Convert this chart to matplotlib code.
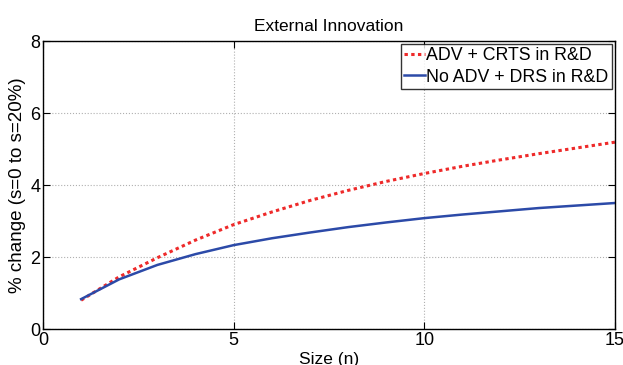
import numpy as np
import matplotlib.pyplot as plt

plt.rcParams['font.family'] = ['Liberation Sans', 'DejaVu Sans']

size_n = [1, 2, 3, 4, 5, 6, 7, 8, 9, 10, 11, 12, 13, 14, 15]
adv_crts = [0.80, 1.45, 1.98, 2.47, 2.90, 3.25, 3.57, 3.85, 4.10, 4.32,
            4.52, 4.70, 4.87, 5.03, 5.19]
noadv_drs = [0.83, 1.38, 1.78, 2.08, 2.33, 2.52, 2.68, 2.83, 2.96, 3.08,
             3.18, 3.27, 3.36, 3.43, 3.50]

fig = plt.figure(figsize=(6.23, 3.65), dpi=100)
ax = fig.add_axes([0.069, 0.0986, 0.918, 0.789])

ax.plot(size_n, adv_crts, color='#ee2a2a', linestyle=(0, (1.1, 1.1)), linewidth=2.2,
        label='ADV + CRTS in R&D')
ax.plot(size_n, noadv_drs, color='#2c4aa8', linewidth=1.8,
        label='No ADV + DRS in R&D')

ax.set_xlim(0, 15)
ax.set_ylim(0, 8)
ax.set_xticks([0, 5, 10, 15])
ax.set_yticks([0, 2, 4, 6, 8])
ax.tick_params(direction='in', top=True, right=True, labelsize=13, length=5, pad=2)
ax.grid(True, linestyle=':', color='#b0b0b0', linewidth=0.8)
for s in ax.spines.values():
    s.set_linewidth(1.0)

ax.set_title('External Innovation', fontsize=12.5, pad=7)
ax.set_xlabel('Size (n)', fontsize=12.5, labelpad=2)
ax.set_ylabel('% change (s=0 to s=20%)', fontsize=13.5, labelpad=3)

leg = ax.legend(loc='upper right', fontsize=12.8, frameon=True, fancybox=False,
                borderpad=0.2, labelspacing=0.25, handlelength=1.15, handletextpad=0.1,
                borderaxespad=0.15)
leg.get_frame().set_edgecolor('black')
leg.get_frame().set_linewidth(1.0)

fig.savefig('out.png', dpi=100)
